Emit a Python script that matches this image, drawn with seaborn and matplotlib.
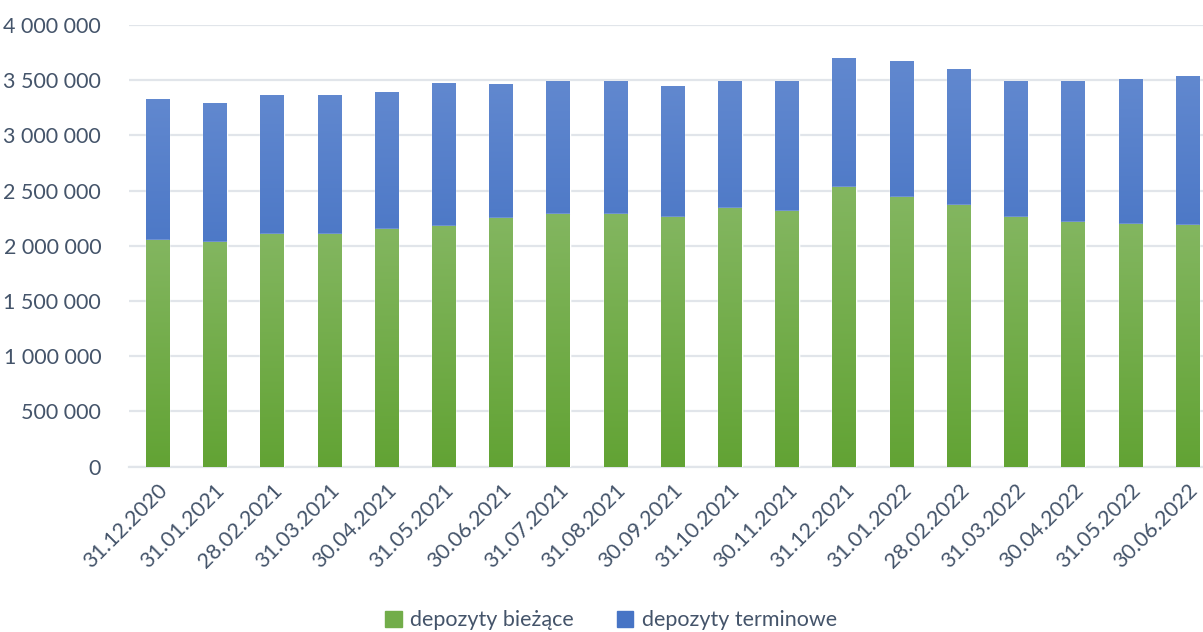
import numpy as np
import pandas as pd
import matplotlib
matplotlib.use("Agg")
import matplotlib.pyplot as plt
from matplotlib.patches import Patch
from matplotlib.colors import LinearSegmentedColormap
import seaborn as sns

dates = ["31.12.2020", "31.01.2021", "28.02.2021", "31.03.2021", "30.04.2021",
         "31.05.2021", "30.06.2021", "31.07.2021", "31.08.2021", "30.09.2021",
         "31.10.2021", "30.11.2021", "31.12.2021", "31.01.2022", "28.02.2022",
         "31.03.2022", "30.04.2022", "31.05.2022", "30.06.2022"]
biezace = [2056000, 2038000, 2111000, 2111000, 2156000, 2183000, 2256000, 2292000,
           2292000, 2265000, 2346000, 2319000, 2537000, 2446000, 2374000, 2265000,
           2219000, 2201000, 2192000]
terminowe = [1270000, 1252000, 1251000, 1251000, 1234000, 1288000, 1206000, 1197000,
             1197000, 1179000, 1143000, 1170000, 1161000, 1225000, 1224000, 1224000,
             1270000, 1307000, 1343000]

df = pd.DataFrame({"data": dates, "biezace": biezace, "terminowe": terminowe})
df["suma"] = df["biezace"] + df["terminowe"]

text_col = "#44546A"
grid_col = "#E1E5EA"
green_top, green_bot = "#83B660", "#62A334"
blue_top, blue_bot = "#6188CF", "#2D60BA"

sns.set_style("white")
plt.rcParams["font.family"] = ["Lato", "DejaVu Sans"]

fig = plt.figure(figsize=(12.03, 6.32), dpi=100)
ax = fig.add_axes([0.1072, 0.2616, 0.8928, 0.6988])

sns.barplot(data=df, x="data", y="suma", color=blue_bot, width=0.41, ax=ax, zorder=2)
n_blue = len(ax.patches)
sns.barplot(data=df, x="data", y="biezace", color=green_bot, width=0.41, ax=ax, zorder=3)


def gradient(ax, patch, top, bot, z):
    x, y = patch.get_x(), patch.get_y()
    w, h = patch.get_width(), patch.get_height()
    cmap = LinearSegmentedColormap.from_list("g", [bot, top])
    grad = np.linspace(0, 1, 256).reshape(-1, 1)
    im = ax.imshow(grad, cmap=cmap, extent=[x, x + w, y, y + h], origin="lower",
                   aspect="auto", zorder=z, interpolation="bilinear")
    im.set_clip_path(patch)


for i, p in enumerate(list(ax.patches)):
    if i < n_blue:
        gradient(ax, p, blue_top, blue_bot, 2.5)
    else:
        gradient(ax, p, green_top, green_bot, 3.5)

ax.set_xlim(-0.5, 18.27)
ax.set_ylim(0, 4000000)
ax.set_yticks(np.arange(0, 4000001, 500000))
ax.set_yticklabels([f"{int(v):,}".replace(",", " ") for v in ax.get_yticks()])
ax.yaxis.grid(True, color=grid_col, linewidth=1.6, zorder=0)
ax.set_axisbelow(True)
for s in ["top", "right", "left"]:
    ax.spines[s].set_visible(False)
ax.spines["bottom"].set_color(grid_col)
ax.spines["bottom"].set_linewidth(1.6)
ax.set_xlabel("")
ax.set_ylabel("")
ax.tick_params(axis="both", length=0, colors=text_col, labelsize=15.5)
ax.tick_params(axis="y", pad=20)
ax.tick_params(axis="x", pad=10)
plt.setp(ax.get_xticklabels(), rotation=45, ha="right", rotation_mode="anchor")

handles = [Patch(color="#72AD4A", label="depozyty bieżące"),
           Patch(color="#4774C5", label="depozyty terminowe")]
fig.legend(handles=handles, loc="lower center", bbox_to_anchor=(0.508, -0.028), ncol=2,
           frameon=False, fontsize=15.5, labelcolor=text_col, handlelength=0.75,
           handleheight=0.75, handletextpad=0.4, columnspacing=2.0)

fig.savefig("out.png", dpi=100)
